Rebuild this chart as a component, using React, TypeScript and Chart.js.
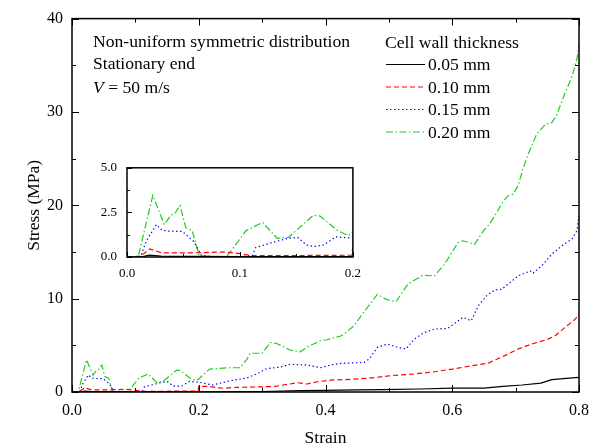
import React, { useEffect, useRef } from "react";
import { Chart, registerables } from "chart.js";

Chart.register(...registerables);

// Stress–strain response for each cell wall thickness
const strain005 = [0, 0.012, 0.02, 0.03, 0.06, 0.1, 0.2, 0.3, 0.36, 0.4, 0.45, 0.49, 0.55, 0.6, 0.65, 0.68, 0.71, 0.74, 0.757, 0.78, 0.8];
const stress005 = [0, 0, 0.1, 0.05, 0.03, 0.02, 0.02, 0.05, 0.14, 0.18, 0.22, 0.26, 0.32, 0.42, 0.42, 0.6, 0.75, 0.96, 1.32, 1.45, 1.57];

const strain010 = [0, 0.012, 0.02, 0.031, 0.057, 0.086, 0.1, 0.11, 0.145, 0.199, 0.2, 0.215, 0.238, 0.26, 0.3, 0.32, 0.344, 0.355, 0.371, 0.387, 0.413, 0.429, 0.466, 0.503, 0.54, 0.572, 0.6, 0.63, 0.657, 0.683, 0.704, 0.725, 0.749, 0.762, 0.778, 0.794, 0.8];
const stress010 = [0, 0.05, 0.45, 0.23, 0.23, 0.28, 0.19, 0.08, 0.08, 0.1, 0.6, 0.6, 0.4, 0.5, 0.55, 0.6, 0.86, 1.0, 0.86, 1.1, 1.3, 1.32, 1.46, 1.75, 1.93, 2.17, 2.46, 2.8, 3.1, 3.9, 4.6, 5.13, 5.6, 6.0, 6.92, 7.8, 8.3];

const strain015 = [0, 0.012, 0.017, 0.026, 0.031, 0.037, 0.049, 0.059, 0.066, 0.08, 0.105, 0.111, 0.114, 0.127, 0.142, 0.151, 0.159, 0.165, 0.174, 0.185, 0.2, 0.222, 0.249, 0.276, 0.292, 0.307, 0.329, 0.344, 0.37, 0.392, 0.413, 0.424, 0.461, 0.469, 0.482, 0.498, 0.514, 0.527, 0.54, 0.556, 0.572, 0.593, 0.617, 0.63, 0.641, 0.654, 0.667, 0.678, 0.688, 0.704, 0.723, 0.727, 0.741, 0.757, 0.773, 0.789, 0.797, 0.8];
const stress015 = [0, 0, 0.88, 1.82, 1.5, 1.45, 1.43, 0.88, 0.08, 0, 0.05, 0.1, 0.53, 0.78, 1.04, 1.1, 0.67, 0.59, 0.67, 1.13, 1.05, 0.75, 1.2, 1.5, 1.96, 2.5, 2.67, 2.96, 2.9, 2.6, 2.96, 3.07, 3.17, 3.53, 4.78, 5.13, 4.78, 4.6, 5.67, 6.38, 6.74, 6.81, 8.0, 7.63, 9.23, 10.3, 10.94, 11.0, 11.55, 12.44, 12.97, 12.7, 13.5, 14.76, 15.65, 16.4, 17.3, 19.0];

const strain020 = [0, 0.0098, 0.0229, 0.033, 0.0389, 0.042, 0.047, 0.052, 0.0577, 0.064, 0.088, 0.1055, 0.12, 0.133, 0.143, 0.165, 0.171, 0.186, 0.196, 0.2, 0.217, 0.249, 0.265, 0.276, 0.281, 0.3, 0.313, 0.323, 0.344, 0.36, 0.371, 0.392, 0.402, 0.424, 0.429, 0.445, 0.458, 0.482, 0.495, 0.511, 0.53, 0.553, 0.572, 0.588, 0.609, 0.617, 0.627, 0.635, 0.649, 0.659, 0.67, 0.68, 0.688, 0.696, 0.704, 0.712, 0.72, 0.733, 0.747, 0.757, 0.765, 0.776, 0.789, 0.797, 0.8];
const stress020 = [0, 0, 3.45, 1.82, 2.34, 2.4, 2.89, 1.65, 1.48, 0.05, 0, 1.48, 1.94, 1.05, 1.1, 2.34, 2.3, 1.5, 1.2, 1.4, 2.46, 2.6, 2.6, 3.5, 4.15, 4.15, 5.3, 5.2, 4.5, 4.3, 4.8, 5.5, 5.6, 6.0, 6.2, 7.1, 8.34, 10.48, 9.95, 9.66, 11.55, 12.5, 12.44, 13.7, 16.0, 16.2, 16.0, 15.8, 17.25, 18.0, 19.2, 20.4, 21.0, 21.2, 22.1, 24.0, 25.5, 27.6, 28.7, 28.85, 29.7, 31.7, 33.8, 35.8, 37.2];

const seriesLabels = ["0.05 mm", "0.10 mm", "0.15 mm", "0.20 mm"];
const seriesStrain = [strain005, strain010, strain015, strain020];
const seriesStress = [stress005, stress010, stress015, stress020];

const legendTitle = "Cell wall thickness";
const noteLines = ["Non-uniform symmetric distribution", "Stationary end"];
const velocityNote = { symbol: "V", rest: " = 50 m/s" };

const xTitle = "Strain";
const yTitle = "Stress (MPa)";

// Line styles per series
const lineColors = ["#000000", "#ff0000", "#0000ff", "#22cc22"];
const lineDashes: number[][] = [[], [5, 3], [1.4, 2.6], [7, 2.5, 1.5, 2.5]];

const FONT = "'Liberation Serif', 'Times New Roman', serif";
const NOTE_FONT_SIZE = 17.6;

function buildDatasets() {
  return seriesLabels.map((label, i) => ({
    label,
    data: seriesStrain[i].map((x, j) => ({ x, y: seriesStress[i][j] })),
    borderColor: lineColors[i],
    borderDash: lineDashes[i],
    borderWidth: 1.2,
    pointRadius: 0,
    tension: 0,
    fill: false,
  }));
}

type TickSpec = { xMinor: number; xMajor: number; yMinor: number; yMajor: number; major: number; minor: number; mirror: boolean; white?: boolean; lw: number };

function framePlugin(spec: TickSpec) {
  return {
    id: "frameTicks",
    beforeDatasetsDraw(chart: any) {
      if (!spec.white) return;
      const { ctx, chartArea } = chart;
      ctx.save();
      ctx.fillStyle = "#ffffff";
      ctx.fillRect(chartArea.left, chartArea.top, chartArea.right - chartArea.left, chartArea.bottom - chartArea.top);
      ctx.restore();
    },
    afterDatasetsDraw(chart: any) {
      const { ctx, chartArea, scales } = chart;
      const { left, right, top, bottom } = chartArea;
      const xs = scales.x;
      const ys = scales.y;
      ctx.save();
      ctx.strokeStyle = "#000";
      ctx.lineWidth = spec.lw;
      ctx.strokeRect(left, top, right - left, bottom - top);
      ctx.lineWidth = 1;
      ctx.beginPath();
      const nx = Math.round((xs.max - xs.min) / spec.xMinor);
      for (let k = 0; k <= nx; k++) {
        const v = xs.min + k * spec.xMinor;
        const isMajor = Math.abs(v / spec.xMajor - Math.round(v / spec.xMajor)) < 1e-6;
        const len = isMajor ? spec.major : spec.minor;
        const px = Math.round(xs.getPixelForValue(v)) + 0.5;
        ctx.moveTo(px, bottom);
        ctx.lineTo(px, bottom - len);
        if (spec.mirror) {
          ctx.moveTo(px, top);
          ctx.lineTo(px, top + len);
        }
      }
      const ny = Math.round((ys.max - ys.min) / spec.yMinor);
      for (let k = 0; k <= ny; k++) {
        const v = ys.min + k * spec.yMinor;
        const isMajor = Math.abs(v / spec.yMajor - Math.round(v / spec.yMajor)) < 1e-6;
        const len = isMajor ? spec.major : spec.minor;
        const py = Math.round(ys.getPixelForValue(v)) + 0.5;
        ctx.moveTo(left, py);
        ctx.lineTo(left + len, py);
        if (spec.mirror) {
          ctx.moveTo(right, py);
          ctx.lineTo(right - len, py);
        }
      }
      ctx.stroke();
      ctx.restore();
    },
  };
}

const notesPlugin = {
  id: "notesLegend",
  afterDraw(chart: any) {
    const { ctx } = chart;
    ctx.save();
    ctx.fillStyle = "#000";
    ctx.textBaseline = "alphabetic";
    ctx.textAlign = "left";
    ctx.font = `${NOTE_FONT_SIZE}px ${FONT}`;
    ctx.fillText(noteLines[0], 93, 46.5);
    ctx.fillText(noteLines[1], 93, 69);
    ctx.font = `italic ${NOTE_FONT_SIZE}px ${FONT}`;
    ctx.fillText(velocityNote.symbol, 93, 93);
    const w = ctx.measureText(velocityNote.symbol).width;
    ctx.font = `${NOTE_FONT_SIZE}px ${FONT}`;
    ctx.fillText(velocityNote.rest, 93 + w, 93);

    ctx.fillText(legendTitle, 385, 48);
    const rows = [70, 92.5, 115, 137.5];
    chart.data.datasets.forEach((ds: any, i: number) => {
      const yb = rows[i];
      const yl = yb - 5.5;
      ctx.save();
      ctx.strokeStyle = ds.borderColor;
      ctx.lineWidth = 1.2;
      ctx.setLineDash(ds.borderDash || []);
      ctx.beginPath();
      ctx.moveTo(386, yl);
      ctx.lineTo(425, yl);
      ctx.stroke();
      ctx.restore();
      ctx.fillText(ds.label, 428, yb);
    });
    ctx.restore();
  },
};

export default function App() {
  const mainRef = useRef<HTMLCanvasElement>(null);
  const insetRef = useRef<HTMLCanvasElement>(null);

  useEffect(() => {
    const main = new Chart(mainRef.current!, {
      type: "line",
      data: { datasets: buildDatasets() as any },
      options: {
        responsive: false,
        animation: false,
        layout: { padding: { left: 0, right: 20, top: 18, bottom: 0 } },
        plugins: { legend: { display: false }, tooltip: { enabled: false } },
        scales: {
          x: {
            type: "linear",
            min: 0,
            max: 0.8,
            grid: { display: false, drawTicks: false },
            border: { display: false },
            ticks: {
              stepSize: 0.2,
              padding: 9,
              color: "#000",
              font: { family: FONT, size: 16 },
              callback: (v: any) => Number(v).toFixed(1),
            },
            title: { display: true, text: xTitle, color: "#000", font: { family: FONT, size: 17.5, lineHeight: 1.0 }, padding: { top: 0, bottom: 0 } },
            afterFit: (s: any) => { s.height = 55; },
          },
          y: {
            type: "linear",
            min: 0,
            max: 40,
            grid: { display: false, drawTicks: false },
            border: { display: false },
            ticks: {
              stepSize: 10,
              padding: 9,
              color: "#000",
              font: { family: FONT, size: 16 },
              callback: (v: any) => String(v),
            },
            title: { display: true, text: yTitle, color: "#000", font: { family: FONT, size: 17.5 }, padding: { top: 24, bottom: 0 } },
            afterFit: (s: any) => { s.width = 72; },
          },
        },
      },
      plugins: [framePlugin({ xMinor: 0.1, xMajor: 0.2, yMinor: 5, yMajor: 10, major: 7, minor: 4, mirror: true, lw: 1.5 }), notesPlugin],
    });

    const inset = new Chart(insetRef.current!, {
      type: "line",
      data: { datasets: buildDatasets() as any },
      options: {
        responsive: false,
        animation: false,
        layout: { padding: { left: 0, right: 13, top: 11, bottom: 0 } },
        plugins: { legend: { display: false }, tooltip: { enabled: false } },
        scales: {
          x: {
            type: "linear",
            min: 0,
            max: 0.2,
            grid: { display: false, drawTicks: false },
            border: { display: false },
            ticks: {
              stepSize: 0.1,
              padding: 9,
              color: "#000",
              font: { family: FONT, size: 13 },
              callback: (v: any) => Number(v).toFixed(1),
            },
            afterFit: (s: any) => { s.height = 28; },
          },
          y: {
            type: "linear",
            min: 0,
            max: 5,
            grid: { display: false, drawTicks: false },
            border: { display: false },
            ticks: {
              stepSize: 2.5,
              padding: 10,
              color: "#000",
              font: { family: FONT, size: 13 },
              callback: (v: any) => Number(v).toFixed(1),
            },
            afterFit: (s: any) => { s.width = 47; },
          },
        },
      },
      plugins: [framePlugin({ xMinor: 0.05, xMajor: 0.1, yMinor: 1.25, yMajor: 2.5, major: 5, minor: 3, mirror: false, white: true, lw: 1.5 })],
    });

    return () => {
      main.destroy();
      inset.destroy();
    };
  }, []);

  return (
    <div style={{ position: "fixed", left: 0, top: 0, width: 599, height: 447, background: "#fff" }}>
      <canvas ref={mainRef} width={599} height={447} style={{ position: "absolute", left: 0, top: 0 }} />
      <canvas ref={insetRef} width={290} height={135} style={{ position: "absolute", left: 80, top: 150 }} />
    </div>
  );
}
